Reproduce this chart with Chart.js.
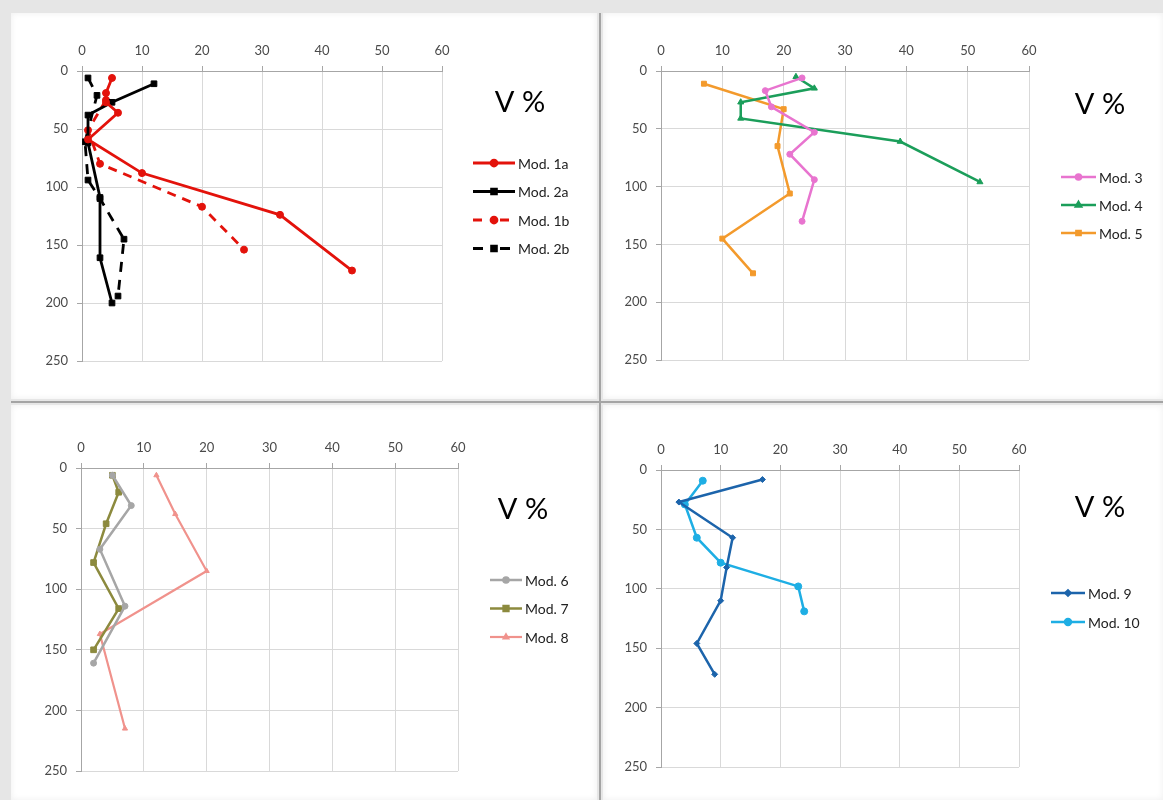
<!DOCTYPE html>
<html>
<head>
<meta charset="utf-8">
<script src="https://cdn.jsdelivr.net/npm/chart.js@4.4.1/dist/chart.umd.min.js"></script>
<style>
    body { margin: 0; width: 1163px; height: 800px; position: relative; overflow: hidden; background: #e6e6e6; font-family: Lato, sans-serif; }
    .panel { position: absolute; background: #fff; box-shadow: 0 0 6px rgba(0,0,0,0.07) inset; }
    .panel canvas { display: block; }
    .vline { position: absolute; left: 599px; top: 13px; width: 2px; height: 787px; background: #a4a4a4; }
    .hline { position: absolute; left: 11px; top: 401px; width: 1152px; height: 2px; background: #a4a4a4; }
</style>
</head>
<body>
<div class="panel" style="left:11px;top:13px;width:586px;height:386px"><canvas id="c1" width="586" height="386"></canvas></div>
<div class="panel" style="left:603px;top:13px;width:560px;height:386px"><canvas id="c2" width="560" height="386"></canvas></div>
<div class="panel" style="left:11px;top:405px;width:586px;height:395px"><canvas id="c3" width="586" height="395"></canvas></div>
<div class="panel" style="left:603px;top:405px;width:560px;height:395px"><canvas id="c4" width="560" height="395"></canvas></div>
<div class="vline"></div>
<div class="hline"></div>
<script>
// eje X (V %) y eje Y (profundidad)
const vTicks = [0, 10, 20, 30, 40, 50, 60];
const depthTicks = [0, 50, 100, 150, 200, 250];

// panel 1
const mod1aV = [5, 4, 4, 6, 1, 10, 33, 45];
const mod1aDepth = [6, 19, 27, 36, 59, 88, 124, 172];
const mod2aV = [12, 5, 1, 1, 3, 3, 5];
const mod2aDepth = [11, 27, 38, 62, 109, 161, 200];
const mod1bV = [4, 1, 3, 20, 27];
const mod1bDepth = [25, 51, 80, 117, 154];
const mod2bV = [1, 2.5, 0.5, 1, 3, 7, 6];
const mod2bDepth = [6, 21, 61, 94, 110, 145, 194];

// panel 2
const mod3V = [23, 17, 18, 25, 21, 25, 23];
const mod3Depth = [6, 17, 31, 53, 72, 94, 130];
const mod4V = [22, 25, 13, 13, 39, 52];
const mod4Depth = [5, 15, 27, 41, 61, 96];
const mod5V = [7, 20, 19, 21, 10, 15];
const mod5Depth = [11, 33, 65, 106, 145, 175];

// panel 3
const mod6V = [5, 8, 3, 7, 2];
const mod6Depth = [6, 31, 67, 114, 161];
const mod7V = [5, 6, 4, 2, 6, 2];
const mod7Depth = [6, 20, 46, 78, 116, 150];
const mod8V = [12, 15, 20, 3, 7];
const mod8Depth = [6, 38, 85, 137, 215];

// panel 4
const mod9V = [17, 3, 12, 11, 10, 6, 9];
const mod9Depth = [8, 27, 57, 82, 110, 146, 172];
const mod10V = [7, 4, 6, 10, 23, 24];
const mod10Depth = [9, 29, 57, 78, 98, 119];

const toPoints = (xs, ys) => xs.map((x, i) => ({ x: x, y: ys[i] }));

const serie = (label, xs, ys, color, style, extra) => Object.assign({
    label: label,
    data: toPoints(xs, ys),
    showLine: true,
    borderColor: color,
    backgroundColor: color,
    borderWidth: 2.5,
    pointStyle: style,
    pointRadius: 3.5,
    pointBorderWidth: 1,
    tension: 0
}, extra || {});

// leyenda a la derecha + titulo "V %"
const leyendaPlugin = {
    id: 'leyenda',
    afterDraw(chart, args, opts) {
        const ctx = chart.ctx;
        ctx.save();
        ctx.fillStyle = '#000';
        ctx.font = '29px Lato';
        ctx.textAlign = 'center';
        ctx.textBaseline = 'middle';
        ctx.fillText('V %', opts.titleX, opts.titleY);

        ctx.font = '14px Lato';
        ctx.textAlign = 'left';
        chart.data.datasets.forEach((ds, i) => {
            const y = opts.y0 + i * opts.step;
            const mid = (opts.x0 + opts.x1) / 2;
            ctx.strokeStyle = ds.borderColor;
            ctx.fillStyle = ds.borderColor;
            ctx.lineWidth = ds.borderWidth;
            ctx.setLineDash(ds.borderDash || []);
            ctx.beginPath();
            if (ds.borderDash) {
                ctx.moveTo(opts.x0, y); ctx.lineTo(mid - 6, y);
                ctx.moveTo(mid + 6, y); ctx.lineTo(opts.x1, y);
            } else {
                ctx.moveTo(opts.x0, y); ctx.lineTo(opts.x1, y);
            }
            ctx.stroke();
            ctx.setLineDash([]);
            Chart.helpers.drawPoint(ctx, { pointStyle: ds.pointStyle, radius: ds.pointRadius * 0.85, borderWidth: 1, rotation: 0 }, mid, y);
            ctx.fillStyle = '#222';
            ctx.fillText(ds.label, opts.x1 + 3, y + 1);
        });
        ctx.restore();
    }
};

const crearPanel = (id, datasets, padding, leyenda) => {
    return new Chart(document.getElementById(id), {
        type: 'scatter',
        data: { datasets: datasets },
        options: {
            responsive: false,
            animation: false,
            layout: { padding: padding },
            plugins: { legend: { display: false }, tooltip: { enabled: false }, leyenda: leyenda },
            scales: {
                x: {
                    position: 'top',
                    min: 0, max: 60,
                    afterBuildTicks: s => { s.ticks = vTicks.map(v => ({ value: v })); },
                    afterFit: s => { s.height = 30; },
                    grid: { color: '#d9d9d9', tickColor: '#a6a6a6', tickLength: 5 },
                    border: { color: '#a6a6a6' },
                    ticks: { color: '#4a4a4a', font: { family: 'Lato', size: 13 }, padding: 7, maxRotation: 0 }
                },
                y: {
                    reverse: true,
                    min: 0, max: 250,
                    afterBuildTicks: s => { s.ticks = depthTicks.map(v => ({ value: v })); },
                    afterFit: s => { s.width = 40; },
                    grid: { color: '#d9d9d9', tickColor: '#a6a6a6', tickLength: 5 },
                    border: { color: '#a6a6a6' },
                    ticks: { color: '#4a4a4a', font: { family: 'Lato', size: 13 }, padding: 9 }
                }
            }
        },
        plugins: [leyendaPlugin]
    });
};

crearPanel('c1', [
    serie('Mod. 1a', mod1aV, mod1aDepth, '#e3120b', 'circle', { borderWidth: 2.8 }),
    serie('Mod. 2a', mod2aV, mod2aDepth, '#000000', 'rect', { borderWidth: 2.8, pointRadius: 4 }),
    serie('Mod. 1b', mod1bV, mod1bDepth, '#e3120b', 'circle', { borderWidth: 2.8, borderDash: [9, 7] }),
    serie('Mod. 2b', mod2bV, mod2bDepth, '#000000', 'rect', { borderWidth: 2.8, pointRadius: 4, borderDash: [10, 8] })
], { left: 31, top: 28, right: 155, bottom: 38 },
   { titleX: 509, titleY: 90, x0: 462, x1: 504, y0: 150, step: 28.5 });

crearPanel('c2', [
    serie('Mod. 3', mod3V, mod3Depth, '#e874cf', 'circle', { pointRadius: 3 }),
    serie('Mod. 4', mod4V, mod4Depth, '#1b9e5a', 'triangle'),
    serie('Mod. 5', mod5V, mod5Depth, '#f39a2c', 'rect')
], { left: 18, top: 28, right: 134, bottom: 39 },
   { titleX: 497, titleY: 92, x0: 458, x1: 493, y0: 164, step: 28 });

crearPanel('c3', [
    serie('Mod. 6', mod6V, mod6Depth, '#a6a6a6', 'circle', { pointRadius: 3 }),
    serie('Mod. 7', mod7V, mod7Depth, '#8c8a3e', 'rect', { pointRadius: 4 }),
    serie('Mod. 8', mod8V, mod8Depth, '#f0928c', 'triangle', { borderWidth: 2.2, pointRadius: 3 })
], { left: 30, top: 33, right: 139, bottom: 29 },
   { titleX: 512, titleY: 105, x0: 479, x1: 511, y0: 175, step: 28.5 });

crearPanel('c4', [
    serie('Mod. 9', mod9V, mod9Depth, '#1c64ab', 'rectRot', { pointRadius: 3 }),
    serie('Mod. 10', mod10V, mod10Depth, '#1eaee4', 'circle', { pointRadius: 3.5 })
], { left: 18, top: 35, right: 144, bottom: 33 },
   { titleX: 497, titleY: 103, x0: 448, x1: 482, y0: 188, step: 29 });
</script>
</body>
</html>
